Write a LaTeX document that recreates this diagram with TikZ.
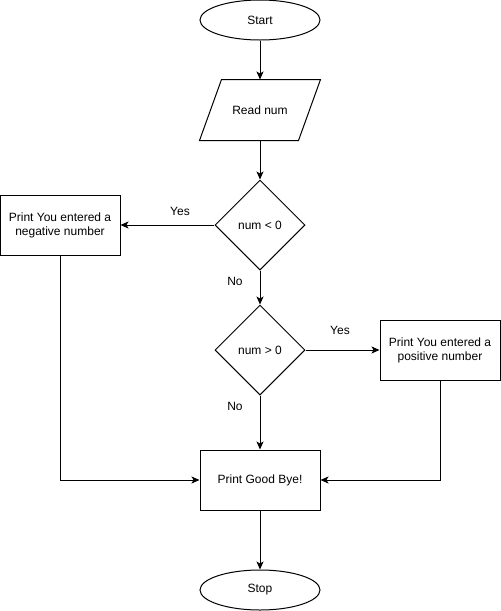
\documentclass[tikz,border=0pt]{standalone}
\usepackage{fontspec}
\setmainfont{Liberation Sans}
\usetikzlibrary{shapes.geometric,arrows.meta}
\begin{document}
\begin{tikzpicture}[x=1pt,y=-1pt,line width=1pt,
  every node/.style={font=\fontsize{12}{14}\selectfont},
  term/.style={draw,ellipse,minimum width=120pt,minimum height=40pt,inner sep=0pt},
  io/.style={rectangle,minimum width=120pt,minimum height=60pt,inner sep=0pt},
  dec/.style={draw,diamond,minimum width=90pt,minimum height=90pt,inner sep=0pt,aspect=1},
  proc/.style={draw,rectangle,minimum width=120pt,minimum height=60pt,inner sep=0pt,align=center},
  lbl/.style={inner sep=0pt},
  arr/.style={-{Stealth[length=8pt,width=7pt,inset=2pt]}}]
\useasboundingbox (0,0) rectangle (501,611);
\node[term] (start) at (260,20) {Start};
\node[io] (read) at (260,110) {Read num};
\draw ([xshift=22pt]read.north west) -- (read.north east) -- ([xshift=-22pt]read.south east) -- (read.south west) -- cycle;
\node[dec] (d1) at (260,225) {num < 0};
\node[proc] (neg) at (60,225) {Print You entered a\\negative number};
\node[dec] (d2) at (260,350) {num > 0};
\node[proc] (pos) at (440,350) {Print You entered a\\positive number};
\node[proc] (bye) at (260,480) {Print Good Bye!};
\node[term] (stop) at (260,590) {Stop};
\node[lbl] (y1) at (180,211) {Yes};
\node[lbl] (n1) at (235,281) {No};
\node[lbl] (y2) at (340,330) {Yes};
\node[lbl] (n2) at (235,406) {No};
\draw[arr] (start) -- (read);
\draw[arr] (read) -- (d1);
\draw[arr] (d1) -- (neg);
\draw[arr] (d1) -- (d2);
\draw[arr] (d2) -- (pos);
\draw[arr] (d2) -- (bye);
\draw[arr] (neg.south) |- (bye.west);
\draw[arr] (pos.south) |- (bye.east);
\draw[arr] (bye) -- (stop);
\end{tikzpicture}
\end{document}
